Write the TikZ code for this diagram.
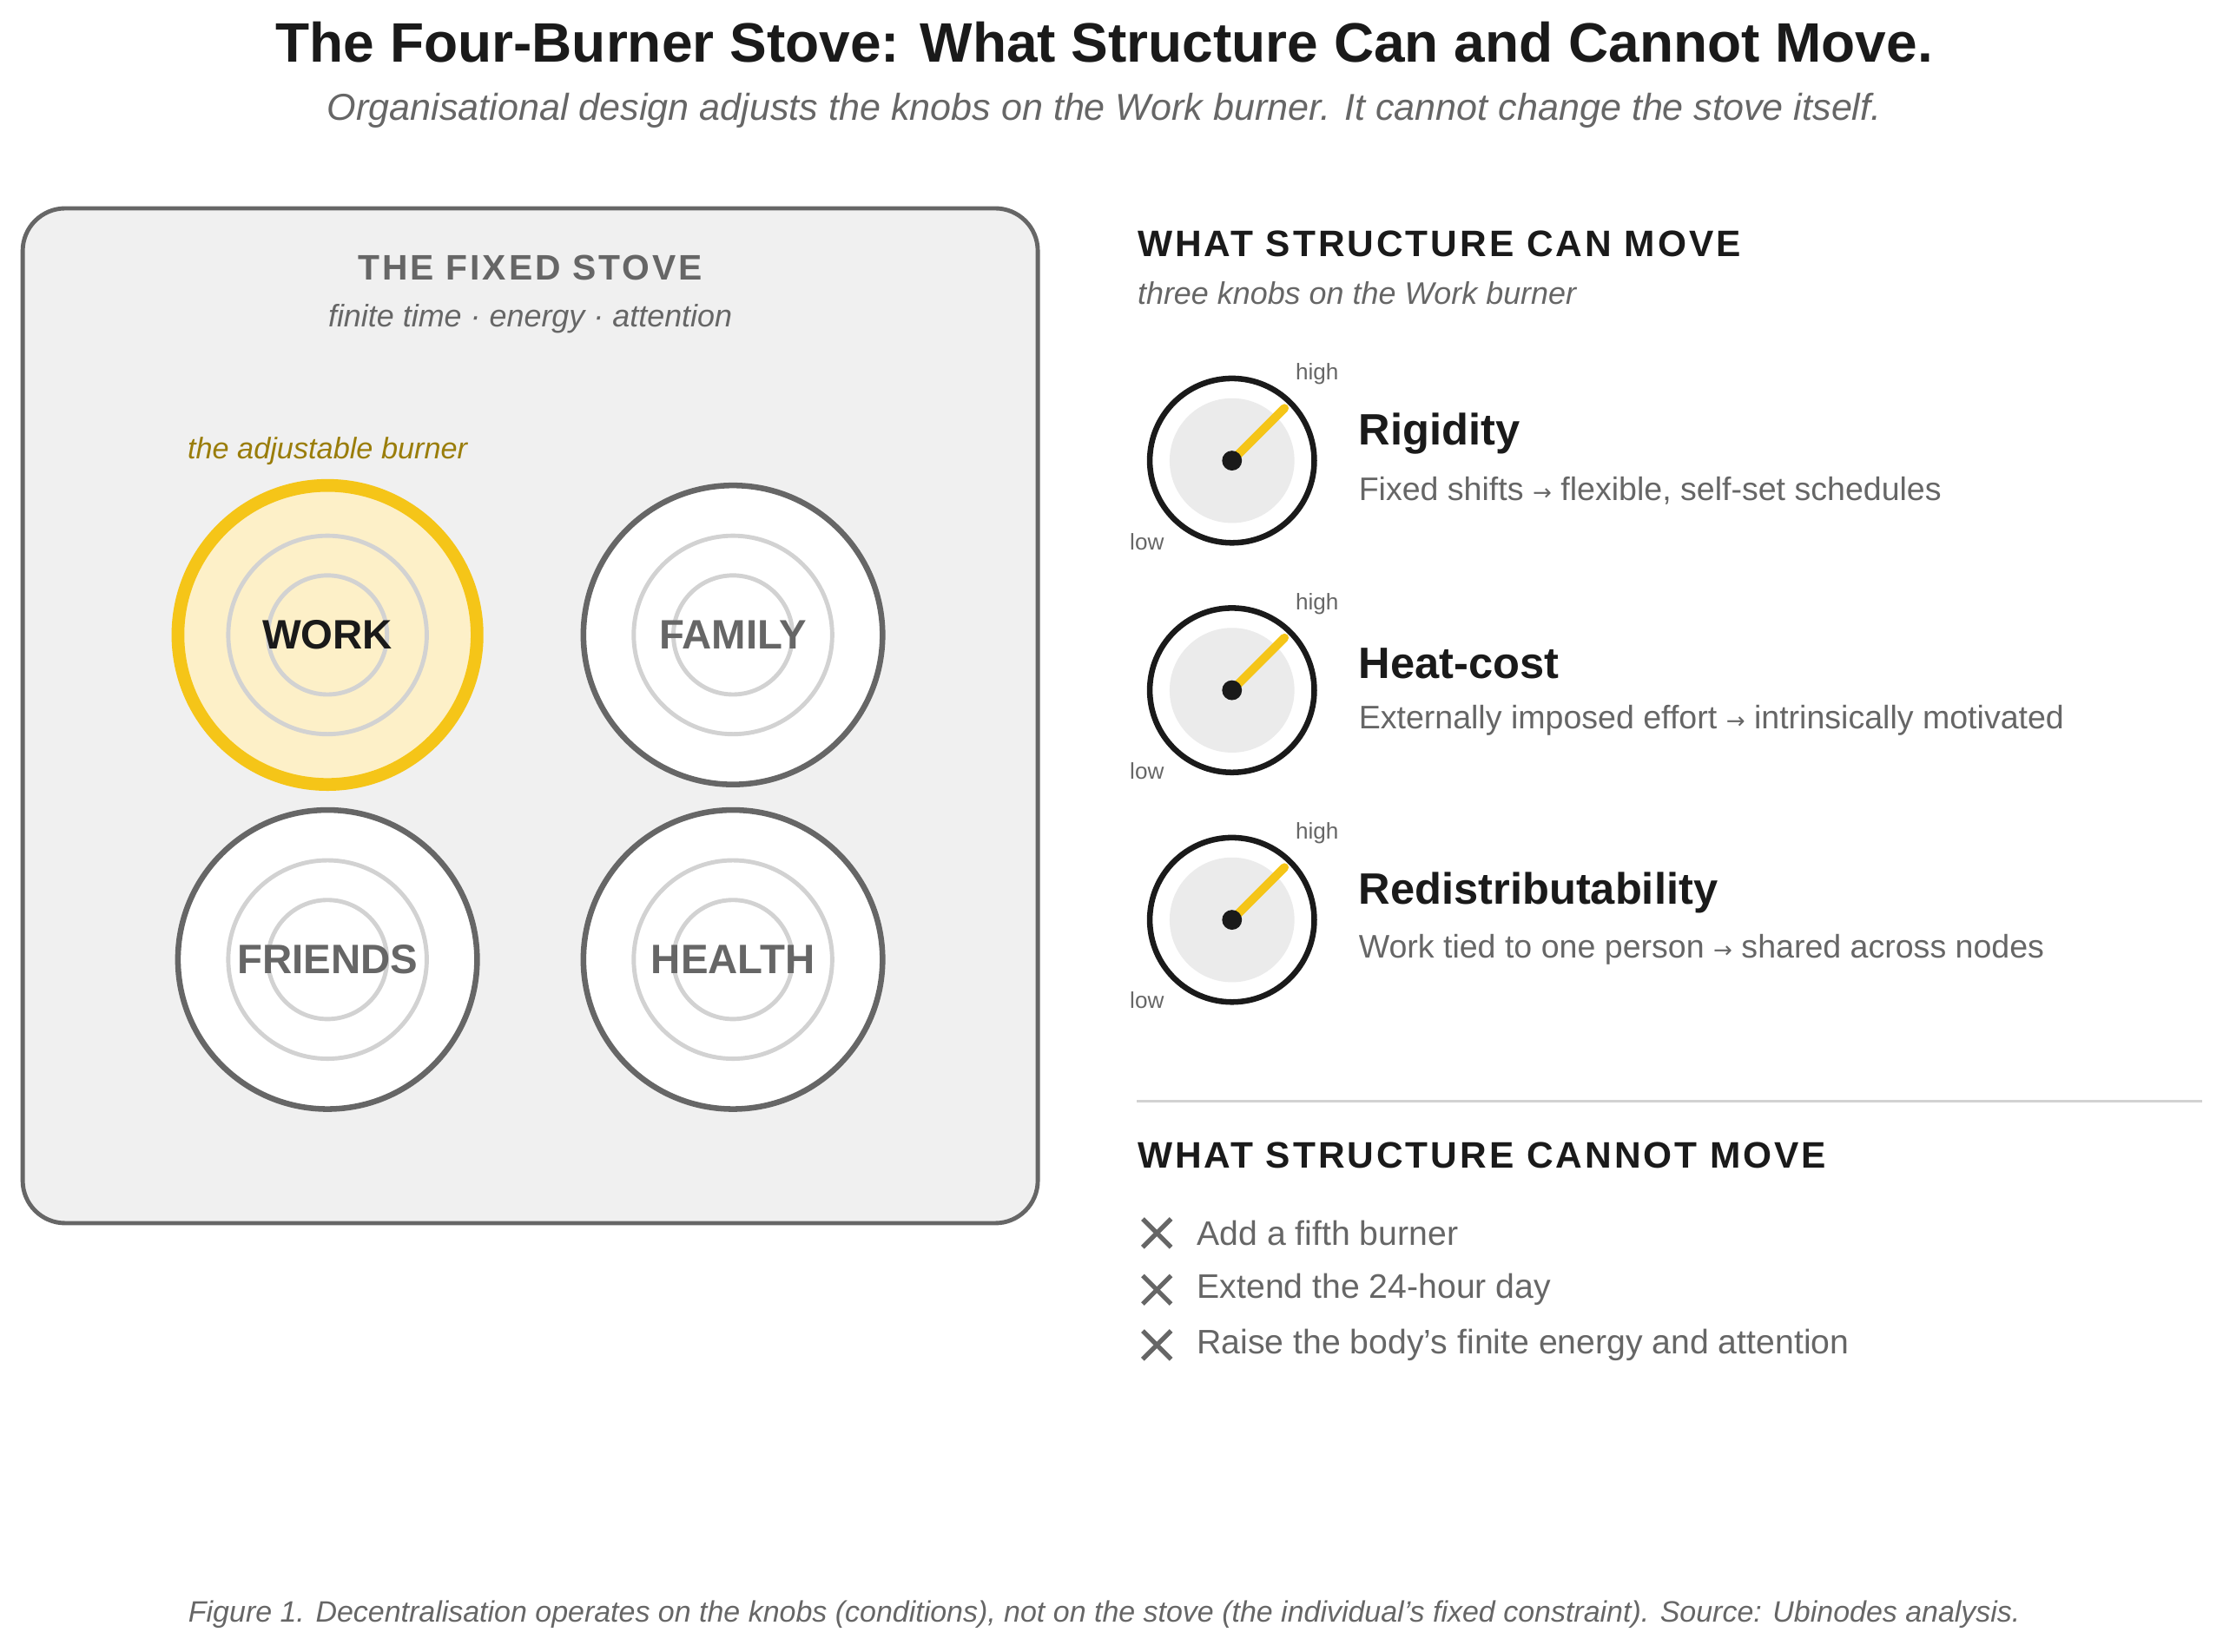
\documentclass[tikz,border=0pt]{standalone}
\usepackage{fontspec}
\setmainfont{Liberation Sans}
\newfontfamily\spacedfont{Liberation Sans}[LetterSpace=7]
\newfontfamily\arrowfont{DejaVu Sans}
\usepackage{xcolor}
\definecolor{stovebg}{HTML}{F0F0F0}
\definecolor{rimgray}{HTML}{666666}
\definecolor{ringgray}{HTML}{D2D2D2}
\definecolor{heatyellow}{HTML}{F5C518}
\definecolor{workfill}{HTML}{FDF0C8}
\definecolor{olive}{HTML}{9A7D0A}
\definecolor{inkblack}{HTML}{1A1A1A}
\definecolor{textgray}{HTML}{666666}
\definecolor{knobfill}{HTML}{EBEBEB}
\newcommand{\fs}[1]{\fontsize{#1}{#1}\selectfont}
\newcommand{\rarr}{{\arrowfont\fs{8}→}}

\tikzset{
  burner/.style={circle, draw=rimgray, line width=2pt, fill=white, minimum size=105.5pt, inner sep=0pt},
  ring/.style={draw=ringgray, line width=1.5pt},
  burnerlabel/.style={font=\bfseries\fs{14.5}, text=textgray},
  heading/.style={anchor=west, inner sep=0pt, font=\spacedfont\bfseries\fs{13}, text=inkblack},
  knobtitle/.style={anchor=west, inner sep=0pt, font=\bfseries\fs{15.5}, text=inkblack},
  knobtext/.style={anchor=west, inner sep=0pt, font=\fs{11.5}, text=textgray},
  tick/.style={font=\fs{8}, text=textgray},
  cross/.style={draw=textgray, line width=1.6pt}
}

\begin{document}
\begin{tikzpicture}[x=0.5pt, y=-0.5pt]
    \useasboundingbox (0,0) rectangle (1568,1165);

    % title
    \node (title) at (779,30) {\bfseries\fs{19.6}\color{inkblack}The Four-Burner Stove: What Structure Can and Cannot Move.};
    \node (subtitle) at (779,78) {\itshape\fs{13.2}\color{textgray}Organisational design adjusts the knobs on the Work burner. It cannot change the stove itself.};

    % stove
    \draw[fill=stovebg, draw=rimgray, line width=1.5pt, rounded corners=15pt] (16,147) rectangle (732,863);
    \node (stove) at (374,189) {\spacedfont\bfseries\fs{12.5}\color{textgray}THE FIXED STOVE};
    \node (limits) at (374,225) {\itshape\fs{11}\color{textgray}finite time · energy · attention};
    \node (adjust) at (231,318) {\itshape\fs{10.5}\color{olive}the adjustable burner};

    % burners
    \node[burner, draw=heatyellow, fill=workfill, line width=4.5pt] (work) at (231,448) {};
    \node[burner] (family) at (517,448) {};
    \node[burner] (friends) at (231,677) {};
    \node[burner] (health) at (517,677) {};
    \foreach \b in {work, family, friends, health} {
        \draw[ring] (\b) circle (70);
        \draw[ring] (\b) circle (42);
    }
    \node[burnerlabel, text=inkblack] at (work) {WORK};
    \node[burnerlabel] at (family) {FAMILY};
    \node[burnerlabel] at (friends) {FRIENDS};
    \node[burnerlabel] at (health) {HEALTH};

    % what can move
    \node[heading] (canmove) at (802,172) {WHAT STRUCTURE CAN MOVE};
    \node[anchor=west, inner sep=0pt, font=\itshape\fs{11}, text=textgray] (knobs) at (802,207) {three knobs on the Work burner};

    \foreach \n/\t/\d/\y in {rig/Rigidity/{Fixed shifts \rarr\ flexible, self-set schedules}/325,
                              heat/Heat-cost/{Externally imposed effort \rarr\ intrinsically motivated}/487,
                              redis/Redistributability/{Work tied to one person \rarr\ shared across nodes}/649} {
        \coordinate (\n) at (869,\y);
        \draw[draw=inkblack, line width=2pt, fill=white] (\n) circle (58);
        \fill[knobfill] (\n) circle (44);
        \draw[heatyellow, line width=3pt, line cap=round] (\n) -- ++(37,-37);
        \fill[inkblack] (\n) circle (7);
        \node[tick] at (929,\y-61) {high};
        \node[tick] at (809,\y+57) {low};
        \node[knobtitle] at (958,\y-19) {\t};
        \node[knobtext] at (958,\y+21) {\d};
    }

    % divider
    \draw[draw=ringgray, line width=1pt] (802,777) -- (1553,777);

    % what cannot move
    \node[heading] (cannot) at (802,815) {WHAT STRUCTURE CANNOT MOVE};
    \foreach \t/\y in {Add a fifth burner/870, Extend the 24-hour day/910, Raise the body’s finite energy and attention/949} {
        \draw[cross] (806,\y-10) -- (826,\y+10);
        \draw[cross] (806,\y+10) -- (826,\y-10);
        \node[anchor=west, inner sep=0pt, font=\fs{12}, text=textgray] at (844,\y) {\t};
    }

    % caption
    \node (caption) at (779,1139) {\itshape\fs{10.4}\color{textgray}Figure 1. Decentralisation operates on the knobs (conditions), not on the stove (the individual’s fixed constraint). Source: Ubinodes analysis.};
\end{tikzpicture}
\end{document}
